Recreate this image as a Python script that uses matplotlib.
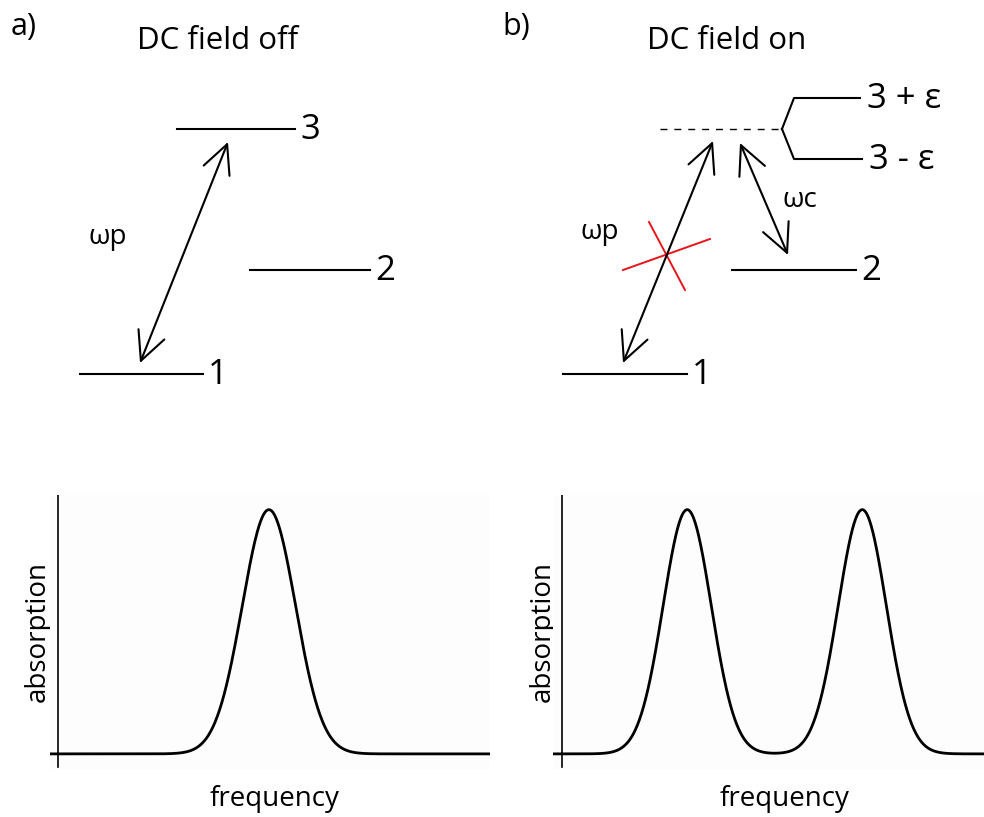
import numpy as np
import matplotlib.pyplot as plt

plt.rcParams['font.family'] = ['Open Sans', 'DejaVu Sans']

W, H = 984, 817

# Niveauschema a) (Pixelkoordinaten): x-Start, x-Ende, Hoehe
levels_a_x0 = [80, 250, 177]
levels_a_x1 = [203, 370, 295]
levels_a_y = [374, 270, 129]
levels_a_labels = ["1", "2", "3"]

# Niveauschema b)
levels_b_x0 = [563, 732]
levels_b_x1 = [687, 856]
levels_b_y = [374, 270]
levels_b_labels = ["1", "2"]
dashed_b = [660, 782, 129]
split_upper = [(782, 129), (794, 98), (860, 98)]
split_lower = [(782, 129), (794, 159), (862, 159)]
split_labels = ["3 + ε", "3 - ε"]

# Pfeile (Spitze 1, Spitze 2)
arrow_p_a = [(140, 363), (228, 142)]
arrow_p_b = [(623, 363), (713, 141)]
arrow_c_b = [(740, 143), (788, 255)]
red_cross = [[(623, 270), (710, 239)], [(649, 222), (685, 290)]]

# Absorptionsspektren: Peakpositionen (willk. Einheiten), Breite
peaks_off = [49.0]
peaks_on = [29.1, 69.8]
sigma_off = 6.2
sigma_on = 5.6

fig = plt.figure(figsize=(W / 100, H / 100), dpi=100)
canvas = fig.add_axes([0, 0, 1, 1])
canvas.set_xlim(0, W)
canvas.set_ylim(H, 0)
canvas.axis("off")

lw = 1.5
fs_title = 22.5
fs_num = 25
fs_lab = 20

# Titel
canvas.text(24, 27, "a)", fontsize=22, ha="center", va="center")
canvas.text(516, 27, "b)", fontsize=22, ha="center", va="center")
canvas.text(218, 41, "DC field off", fontsize=fs_title, ha="center", va="center")
canvas.text(727, 41, "DC field on", fontsize=fs_title, ha="center", va="center")

# Niveaus a)
for x0, x1, y, lab in zip(levels_a_x0, levels_a_x1, levels_a_y, levels_a_labels):
    canvas.plot([x0, x1], [y, y], color="black", lw=lw)
    canvas.text(x1 + 5, y + 1, lab, fontsize=fs_num, ha="left", va="center")

# Niveaus b)
for x0, x1, y, lab in zip(levels_b_x0, levels_b_x1, levels_b_y, levels_b_labels):
    canvas.plot([x0, x1], [y, y], color="black", lw=lw)
    canvas.text(x1 + 5, y + 1, lab, fontsize=fs_num, ha="left", va="center")
canvas.plot(dashed_b[:2], [dashed_b[2], dashed_b[2]], color="black", lw=1.0,
            dashes=(5, 5))
for pts, lab in zip([split_upper, split_lower], split_labels):
    xs, ys = zip(*pts)
    canvas.plot(xs, ys, color="black", lw=lw)
    canvas.text(xs[-1] + 7, ys[-1] + 1, lab, fontsize=fs_num, ha="left", va="center")

# Pfeile
for a in [arrow_p_a, arrow_p_b, arrow_c_b]:
    canvas.annotate("", xy=a[1], xytext=a[0],
                    arrowprops=dict(arrowstyle="<->,head_length=2.05,head_width=1.0",
                                    mutation_scale=10, lw=lw, color="black",
                                    shrinkA=0, shrinkB=0))
canvas.text(89, 237, "ωp", fontsize=20, ha="left", va="center")
canvas.text(581, 232, "ωp", fontsize=20, ha="left", va="center")
canvas.text(782, 200, "ωc", fontsize=20, ha="left", va="center")

for seg in red_cross:
    xs, ys = zip(*seg)
    canvas.plot(xs, ys, color="#e8141b", lw=1.4)


def spectrum(ax, peaks, sigma, xmin, xmax):
    f = np.linspace(xmin, xmax, 800)
    a = np.zeros_like(f)
    for p in peaks:
        a += np.exp(-0.5 * ((f - p) / sigma) ** 2)
    ax.set_facecolor("#fdfdfd")
    ax.plot(f, a, color="black", lw=2.0, solid_capstyle="butt")
    ax.plot([0, 0], [-0.053, 1.06], color="black", lw=1.2)
    ax.set_xlim(xmin, xmax)
    ax.set_ylim(-0.066, 1.06)
    for s in ax.spines.values():
        s.set_visible(False)
    ax.set_xticks([])
    ax.set_yticks([])


def fig_rect(x0, x1, y0, y1):
    return [x0 / W, 1 - y1 / H, (x1 - x0) / W, (y1 - y0) / H]


ax1 = fig.add_axes(fig_rect(50, 490, 495, 770))
spectrum(ax1, peaks_off, sigma_off, -1.9, 100.4)
ax2 = fig.add_axes(fig_rect(553, 984, 495, 770))
spectrum(ax2, peaks_on, sigma_on, -2.1, 98.1)

canvas.text(38, 631, "absorption", fontsize=fs_lab, rotation=90, ha="center", va="center")
canvas.text(543, 631, "absorption", fontsize=fs_lab, rotation=90, ha="center", va="center")
canvas.text(275, 799, "frequency", fontsize=fs_lab, ha="center", va="center")
canvas.text(785, 799, "frequency", fontsize=fs_lab, ha="center", va="center")

fig.savefig("out.png", dpi=100)
